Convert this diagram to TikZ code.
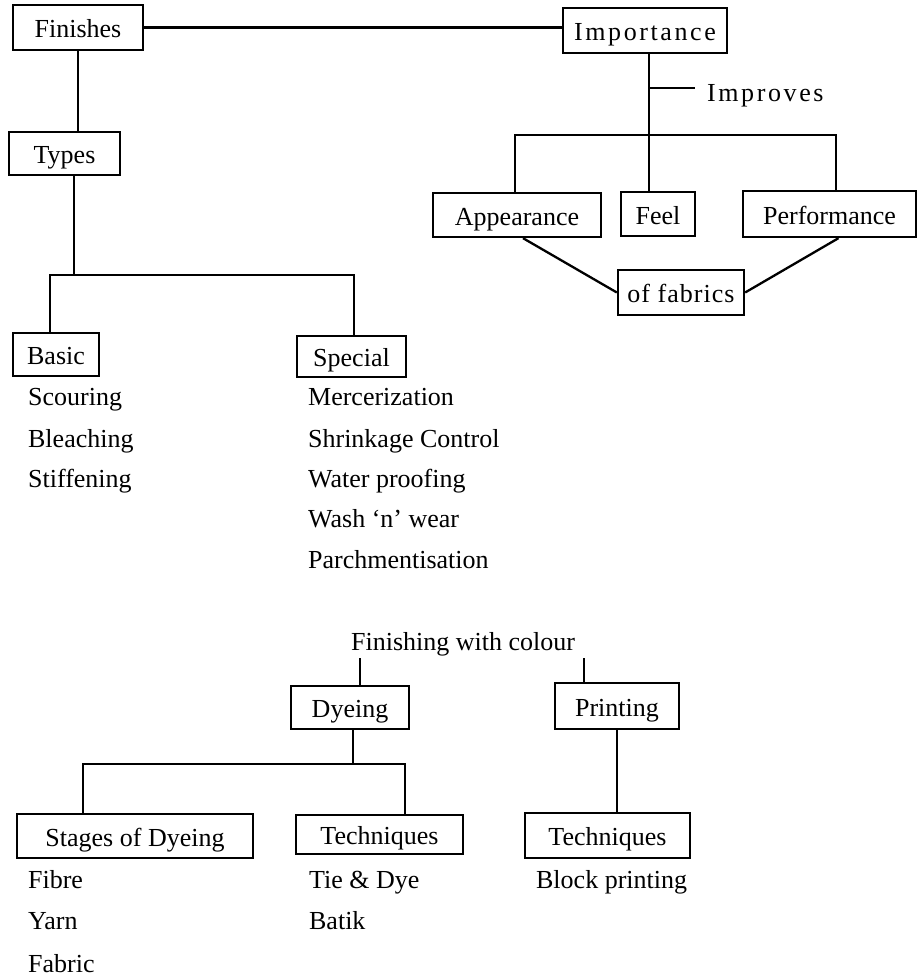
\documentclass[tikz,border=0pt]{standalone}
\usepackage{fontspec}
\setmainfont{Liberation Serif}
\usepackage{tikz}
\usetikzlibrary{positioning}

\begin{document}
\begin{tikzpicture}[
  x=1pt, y=-1pt,
  line width=2.3pt,
  box/.style={draw, line width=2.3pt, inner sep=0pt, text height=20pt,
              text depth=0pt, font=\fontsize{26}{30}\selectfont},
  item/.style={anchor=base west, inner sep=0pt, font=\fontsize{26}{30}\selectfont},
  wide/.style={font=\fontsize{26}{30}\selectfont\addfontfeature{LetterSpace=10}},
  spaced/.style={font=\fontsize{26}{30}\selectfont\addfontfeature{LetterSpace=4}}
]
\useasboundingbox (0,0) rectangle (919,977);

% finishes and types
\node[box, minimum width=130pt, minimum height=45pt] (fin)   at (78,27.5)    {Finishes};
\node[box, minimum width=111pt, minimum height=43pt] (types) at (64.5,153.5) {Types};
\node[box, minimum width=86pt,  minimum height=43pt] (basic) at (56,354.5)   {Basic};
\node[box, minimum width=109pt, minimum height=41pt] (spec)  at (351.5,356.5) {Special};

% importance
\node[box, wide, minimum width=164pt, minimum height=45pt] (imp) at (645,30.5) {Importance};
\node[box, minimum width=168pt, minimum height=44pt] (app)  at (517,215)   {Appearance};
\node[box, minimum width=74pt,  minimum height=44pt] (feel) at (658,214)   {Feel};
\node[box, minimum width=173pt, minimum height=46pt] (perf) at (829.5,214) {Performance};
\node[box, spaced, minimum width=126pt, minimum height=45pt] (fab) at (681,292.5) {of fabrics};
\node[item, wide, anchor=base west] (impr) at (706,101) {Improves};

% colour
\node[item] (colour) at (350,650) {Finishing with colour};
\node[box, minimum width=118pt, minimum height=43pt] (dye)    at (350,707.5)  {Dyeing};
\node[box, minimum width=124pt, minimum height=46pt] (print)  at (617,706)    {Printing};
\node[box, minimum width=236pt, minimum height=44pt] (stages) at (135,836)    {Stages of Dyeing};
\node[box, minimum width=167pt, minimum height=39pt] (techA)  at (379.5,834.5) {Techniques};
\node[box, minimum width=165pt, minimum height=45pt] (techB)  at (607.5,835.5) {Techniques};

\foreach \y/\lbl in {405/Scouring, 447/Bleaching, 487/Stiffening}
  \node[item] (bas\y) at (27,\y) {\lbl};
\foreach \y/\lbl in {405/Mercerization, 447/Shrinkage Control, 487/Water proofing,
                     527/Wash `n' wear, 568/Parchmentisation}
  \node[item] (spc\y) at (307,\y) {\lbl};
\foreach \y/\lbl in {888/Fibre, 929/Yarn, 972/Fabric}
  \node[item] (stg\y) at (27,\y) {\lbl};
\foreach \y/\lbl in {888/Tie \& Dye, 929/Batik}
  \node[item] (tch\y) at (308,\y) {\lbl};
\node[item] (block) at (535,888) {Block printing};

\coordinate (tj) at (74,275);
\coordinate (tl) at (50,275);
\coordinate (tr) at (354,275);
\coordinate (ij) at (649,135);
\coordinate (il) at (515,135);
\coordinate (ir) at (836,135);
\coordinate (is) at (649,88);
\coordinate (cl) at (360,658);
\coordinate (cr) at (584,658);
\coordinate (dj) at (353,764);
\coordinate (dl) at (83,764);
\coordinate (dr) at (405,764);

\draw (fin.east) -- (fin.east -| imp.west);
\draw (fin.south) -- (fin.south |- types.north);
\draw (types.south -| tj) -- (tj);
\draw (basic.north -| tl) -- (tl) -- (tr) -- (spec.north -| tr);

\draw (imp.south -| ij) -- (feel.north -| ij);
\draw (is) -- ([xshift=-11pt]impr.west |- is);
\draw (app.north -| il) -- (il) -- (ir) -- (perf.north -| ir);
\draw ([xshift=6pt]app.south) -- (fab.west);
\draw ([xshift=9pt]perf.south) -- (fab.east);

\draw (cl) -- (cl |- dye.north);
\draw (cr) -- (cr |- print.north);
\draw (dye.south -| dj) -- (dj);
\draw (stages.north -| dl) -- (dl) -- (dr) -- (techA.north -| dr);
\draw (print.south) -- (print.south |- techB.north);

\end{tikzpicture}
\end{document}
